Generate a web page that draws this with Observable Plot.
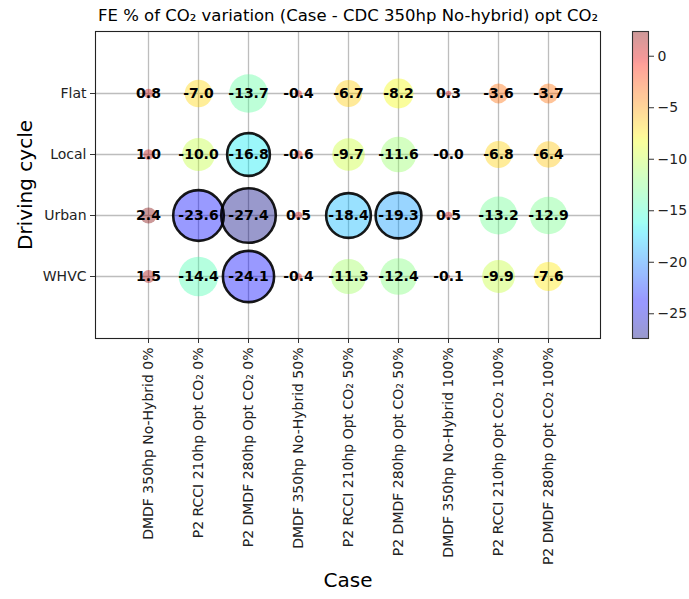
<!DOCTYPE html>
<html><head><meta charset="utf-8">
<script src="https://cdn.jsdelivr.net/npm/d3@7"></script>
<script src="https://cdn.jsdelivr.net/npm/@observablehq/plot@0.6"></script>
<style>
body{margin:0;background:#fff;}
#wrap{position:relative;width:689px;height:599px;font-family:"DejaVu Sans",sans-serif;}
#wrap svg{position:absolute;top:0;}
</style>
</head><body><div id="wrap"></div>
<script>
const cases = [
  "DMDF 350hp No-Hybrid 0%",
  "P2 RCCI 210hp Opt CO₂ 0%",
  "P2 DMDF 280hp Opt CO₂ 0%",
  "DMDF 350hp No-Hybrid 50%",
  "P2 RCCI 210hp Opt CO₂ 50%",
  "P2 DMDF 280hp Opt CO₂ 50%",
  "DMDF 350hp No-Hybrid 100%",
  "P2 RCCI 210hp Opt CO₂ 100%",
  "P2 DMDF 280hp Opt CO₂ 100%"
];
const cycles = ["Flat", "Local", "Urban", "WHVC"];
const flat  = [0.8, -7.0, -13.7, -0.4, -6.7, -8.2, 0.3, -3.6, -3.7];
const local = [1.0, -10.0, -16.8, -0.6, -9.7, -11.6, -0.04, -6.8, -6.4];
const urban = [2.4, -23.6, -27.4, 0.5, -18.4, -19.3, 0.5, -13.2, -12.9];
const whvc  = [1.5, -14.4, -24.1, -0.4, -11.3, -12.4, -0.1, -9.9, -7.6];
const colorTicks = [0, -5, -10, -15, -20, -25];
const title = "FE % of CO₂ variation (Case - CDC 350hp No-hybrid) opt CO₂";
const xTitle = "Case";
const yTitle = "Driving cycle";
const edgeThreshold = -15;

// matplotlib "jet" colormap
function seg(pts, t) {
  for (let i = 1; i < pts.length; i++) {
    if (t <= pts[i][0]) {
      const [x0, y0] = pts[i - 1], [x1, y1] = pts[i];
      return y0 + (y1 - y0) * (t - x0) / (x1 - x0);
    }
  }
  return pts[pts.length - 1][1];
}
const R = [[0,0],[0.35,0],[0.66,1],[0.89,1],[1,0.5]];
const G = [[0,0],[0.125,0],[0.375,1],[0.64,1],[0.91,0],[1,0]];
const B = [[0,0.5],[0.11,1],[0.34,1],[0.65,0],[1,0]];
function jet(t) {
  t = Math.max(0, Math.min(1, t));
  return `rgb(${Math.round(seg(R,t)*255)},${Math.round(seg(G,t)*255)},${Math.round(seg(B,t)*255)})`;
}

const rows = [flat, local, urban, whvc];
const data = [];
cycles.forEach((c, i) => cases.forEach((k, j) => data.push({cycle: c, case: k, value: rows[i][j]})));
const vmin = d3.min(data, d => d.value), vmax = d3.max(data, d => d.value);
const colorOpt = () => ({type: "linear", domain: [vmin, vmax], interpolate: jet});

const main = Plot.plot({
  width: 689, height: 599,
  marginTop: 31, marginBottom: 261, marginLeft: 95, marginRight: 89,
  style: {fontFamily: "DejaVu Sans", fontSize: "14px", background: "white", color: "black"},
  x: {type: "point", domain: cases, padding: 1, label: null},
  y: {type: "point", domain: cycles, padding: 1, label: null},
  r: {type: "sqrt", domain: [0, d3.max(data, d => Math.abs(d.value))], range: [0, 27.3]},
  color: colorOpt(),
  marks: [
    Plot.gridX({stroke: "#bdbdbd", strokeOpacity: 1, strokeWidth: 1.3}),
    Plot.gridY({stroke: "#bdbdbd", strokeOpacity: 1, strokeWidth: 1.3}),
    Plot.dot(data, {x: "case", y: "cycle", r: d => Math.abs(d.value), fill: "value", fillOpacity: 0.4, stroke: null}),
    Plot.dot(data, {filter: d => d.value < edgeThreshold, x: "case", y: "cycle", r: d => Math.abs(d.value), fill: "none", stroke: "black", strokeWidth: 2.6, strokeOpacity: 0.9}),
    Plot.text(data, {x: "case", y: "cycle", text: d => d.value.toFixed(1), fontWeight: "bold", fontSize: 14, fill: "black"}),
    Plot.axisY({tickSize: 5, tickPadding: 4, fontSize: 14, label: null, stroke: "#333", fill: "#222"}),
    Plot.axisX({tickRotate: -90, tickSize: 5, tickPadding: 4, fontSize: 14, label: null, stroke: "#333", fill: "#222"}),
    Plot.frame({stroke: "#222", strokeWidth: 1.1}),
    Plot.text([title], {frameAnchor: "top", dy: -16, fontSize: 16.5, textAnchor: "middle", lineAnchor: "middle"}),
    Plot.text([xTitle], {frameAnchor: "bottom", dy: 242, fontSize: 20, textAnchor: "middle", lineAnchor: "middle"}),
    Plot.text([yTitle], {frameAnchor: "left", dx: -70, rotate: -90, fontSize: 20, textAnchor: "middle", lineAnchor: "middle"})
  ]
});
main.style.left = "0px";
document.getElementById("wrap").appendChild(main);

const N = 300;
const step = (vmax - vmin) / N;
const stops = d3.range(N).map(i => vmin + step * i);
const cbar = Plot.plot({
  width: 69, height: 599,
  marginTop: 31, marginBottom: 261, marginLeft: 12, marginRight: 41,
  style: {fontFamily: "DejaVu Sans", fontSize: "14px", background: "transparent", color: "black"},
  x: {axis: null, domain: [0, 1]},
  y: {domain: [vmin, vmax], label: null},
  color: colorOpt(),
  marks: [
    Plot.rect(stops, {x1: 0, x2: 1, y1: d => d, y2: d => d + step, fill: d => d + step / 2, fillOpacity: 0.4, shapeRendering: "crispEdges"}),
    Plot.frame({stroke: "#333", strokeWidth: 1.1}),
    Plot.axisY({anchor: "right", ticks: colorTicks, tickSize: 5, tickPadding: 4, fontSize: 14, label: null, stroke: "#333", fill: "#222"})
  ]
});
cbar.style.left = "620px";
document.getElementById("wrap").appendChild(cbar);
</script>
</body></html>
